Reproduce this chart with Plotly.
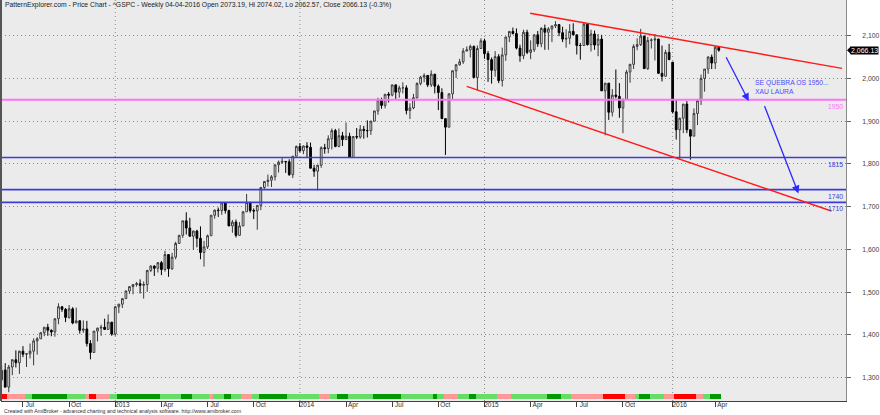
import pandas as pd
import plotly.graph_objects as go

# ---------------- data (weekly ^GSPC, week starting dates from 2012-05-21) ----------------
start_week = "2012-05-21"
opens = [1295,1318,1278,1325,1342,1335,1362,1355,1356,1362,1386,1391,1405,1418,1411,1407,1438,1466,1460,1441,
         1461,1428,1433,1411,1414,1380,1359,1409,1416,1418,1413,1430,1402,1466,1472,1485,1503,1513,1518,1520,
         1516,1518,1551,1561,1556,1569,1553,1588,1555,1582,1614,1633,1667,1650,1631,1643,1626,1593,1606,1632,
         1680,1692,1691,1709,1691,1655,1664,1633,1655,1688,1710,1691,1690,1703,1745,1759,1762,1770,1798,1804,
         1806,1805,1775,1818,1841,1831,1842,1839,1790,1783,1797,1838,1836,1859,1878,1841,1866,1857,1865,1815,
         1864,1863,1881,1878,1878,1900,1924,1950,1937,1963,1961,1985,1968,1978,1978,1925,1931,1955,1988,2003,
         2007,1985,2010,1982,1967,1906,1886,1964,2018,2032,2039,2064,2067,2075,2002,2070,2088,2058,2044,2019,
         2051,1995,2055,2097,2110,2105,2071,2053,2108,2061,2067,2102,2081,2117,2108,2116,2123,2126,2107,2092,
         2094,2110,2102,2077,2077,2127,2079,2104,2078,2092,1971,1989,1921,1961,1958,1931,1951,2015,2033,2075,
         2079,2099,2023,2089,2090,2092,2012,2005,2061,2038,1922,1880,1907,1940,1880,1865,1918,1948,2000,2022,
         2050,2036,2073.19]
highs = [1328,1334,1330,1343,1364,1363,1374,1357,1380,1392,1395,1407,1418,1426,1413,1438,1474,1467,1463,1470,
         1465,1464,1435,1434,1433,1388,1409,1417,1424,1438,1448,1430,1467,1472,1485,1503,1514,1518,1524,1530,
         1525,1552,1563,1563,1570,1573,1597,1589,1592,1618,1634,1667,1687,1674,1644,1646,1654,1620,1635,1680,
         1693,1698,1710,1709,1693,1669,1670,1664,1690,1730,1711,1696,1704,1745,1759,1775,1774,1798,1808,1814,
         1806,1811,1819,1843,1849,1843,1851,1850,1798,1798,1841,1847,1867,1883,1882,1883,1875,1897,1873,1865,
         1884,1891,1889,1902,1901,1924,1955,1955,1963,1968,1985,1985,1983,1991,1984,1942,1964,1991,2006,2012,
         2008,2019,2010,1986,1977,1906,1965,2018,2034,2046,2071,2075,2079,2077,2077,2094,2093,2064,2049,2064,
         2057,2072,2097,2110,2119,2117,2079,2114,2114,2089,2103,2111,2120,2126,2120,2123,2134,2126,2121,2115,
         2127,2129,2102,2083,2132,2129,2114,2112,2104,2102,1989,1989,1975,2021,1989,1953,2020,2034,2080,2094,
         2116,2100,2097,2094,2104,2093,2077,2067,2081,2038,1950,1908,1940,1947,1881,1930,1952,2009,2022,2052,
         2056,2075,2074.02]
lows = [1291,1277,1266,1306,1324,1309,1348,1325,1345,1329,1354,1391,1397,1398,1397,1396,1425,1454,1430,1438,
        1425,1428,1403,1405,1373,1343,1359,1385,1398,1416,1412,1398,1398,1451,1463,1485,1496,1495,1513,1497,
        1485,1501,1547,1538,1546,1540,1548,1536,1552,1577,1614,1627,1635,1630,1599,1605,1577,1560,1601,1632,
        1672,1676,1681,1684,1655,1639,1628,1633,1655,1688,1686,1671,1646,1692,1740,1747,1746,1761,1780,1800,
        1779,1772,1767,1818,1827,1823,1815,1790,1770,1738,1791,1824,1825,1834,1839,1839,1842,1857,1814,1815,
        1858,1859,1859,1862,1868,1900,1915,1929,1930,1944,1958,1952,1955,1965,1916,1905,1928,1953,1984,1991,
        1980,1980,1965,1926,1906,1821,1886,1951,2001,2030,2034,2064,2049,2002,1972,2069,2046,1992,1988,2004,
        1989,1981,2041,2085,2103,2068,2039,2045,2057,2045,2062,2074,2073,2067,2067,2085,2118,2099,2085,2072,
        2080,2101,2056,2044,2077,2077,2063,2067,2052,1971,1867,1903,1911,1953,1908,1872,1951,1990,2022,2066,
        2076,2022,2020,2070,2042,2011,1993,2005,2043,1918,1857,1812,1872,1872,1810,1865,1891,1938,1969,2011,
        2022,2022,2062.57]
closes = [1317,1278,1325,1342,1335,1362,1355,1356,1362,1386,1391,1405,1418,1411,1407,1438,1466,1460,1441,1461,
          1428,1433,1411,1414,1380,1359,1409,1416,1418,1413,1430,1402,1466,1472,1485,1503,1513,1518,1520,1516,
          1518,1551,1561,1556,1569,1553,1588,1555,1582,1614,1633,1667,1650,1631,1643,1626,1593,1606,1632,1680,
          1692,1691,1709,1691,1655,1664,1633,1655,1688,1710,1691,1690,1703,1745,1759,1762,1770,1798,1804,1806,
          1805,1775,1818,1841,1831,1842,1839,1790,1783,1797,1838,1836,1859,1878,1841,1866,1857,1865,1815,1864,
          1863,1881,1878,1878,1900,1924,1950,1937,1963,1961,1985,1968,1978,1978,1925,1931,1955,1988,2003,2007,
          1985,2010,1982,1967,1906,1886,1964,2018,2032,2039,2064,2067,2075,2002,2070,2088,2058,2044,2019,2051,
          1995,2055,2097,2110,2105,2071,2053,2108,2061,2067,2102,2081,2117,2108,2116,2123,2126,2107,2092,2094,
          2110,2102,2077,2077,2127,2079,2104,2078,2092,1971,1989,1921,1961,1958,1931,1951,2015,2033,2075,2079,
          2099,2023,2089,2090,2092,2012,2005,2061,2044,1922,1880,1907,1940,1880,1865,1918,1948,2000,2022,2050,
          2036,2073,2066.13]

# trend ribbon, one code per week: R red, P pink, L light green, G dark green
ribbon = ("RR" "PPPPP" "LL" "GGGGGGGGGG" "LLLLL" "P" "RR" "PPPP" "LL" "GGGGGGGGGGGG" "LLLLLL" "GGG" "LLLLL"
          "P" "LLL" "GG" "LLL" "PPP" "LL" "GGGGGGGG" "LLLLLLLLL" "PPP" "LL" "GGG" "LLLLLLL" "GGGGGGGG"
          "LLLLLLLLL" "G" "LL" "PPPP" "LLL" "GG" "LLLLLL" "PPPP" "LLLLLLLLLL" "GGGG" "LLL" "PPPPPPPPP"
          "RRRRRR" "PPP" "L" "GGG" "LLLL" "PPP" "RRRRRR" "PP" "LL" "GGG")
ribbon_colors = {"R": "#ff0000", "P": "#ff9999", "L": "#66dd66", "G": "#009a00"}

tick_dates = ["2012-07-02", "2012-10-01", "2012-12-31", "2013-04-01", "2013-07-01", "2013-09-30",
              "2013-12-30", "2014-03-31", "2014-06-30", "2014-09-29", "2014-12-29", "2015-03-30",
              "2015-06-29", "2015-09-28", "2016-01-04", "2016-03-28"]
tick_labels = ["Jul", "Oct", "2013", "Apr", "Jul", "Oct", "2014", "Apr", "Jul", "Oct", "2015", "Apr",
               "Jul", "Oct", "2016", "Apr"]
year_lines = ["2012-12-31", "2013-12-30", "2014-12-29", "2016-01-04"]
y_ticks = [1300, 1400, 1500, 1600, 1700, 1800, 1900, 2000, 2100]

# support levels
levels = [1950, 1815, 1740, 1710]
level_colors = ["#ff70ff", "#3c3cdc", "#3c3cdc", "#3c3cdc"]

# channel lines (date, price)
upper_line = [("2015-03-29", 2152.4), ("2016-12-03", 2023.7)]
lower_line = [("2014-11-24", 1981.6), ("2016-11-12", 1690.0)]
# arrows (tail -> head)
arrows = [(("2016-04-17", 2053.0), ("2016-06-02", 1947.0)),
          (("2016-07-02", 1939.0), ("2016-09-08", 1731.0))]
note_pos = ("2016-06-10", 2003.0)
note_text = "SE QUEBRA OS 1950...<br>XAU LAURA"

title_text = ("PatternExplorer.com - Price Chart - ^GSPC - Weekly 04-04-2016 Open 2073.19, "
              "Hi 2074.02, Lo 2062.57, Close 2066.13 (-0.3%)")
footer_text = ("Created with AmiBroker - advanced charting and technical analysis software. "
               "http://www.amibroker.com")
last_close = closes[-1]

# ---------------- figure ----------------
n = len(closes)
dates = pd.date_range(start_week, periods=n, freq="7D")
t0 = pd.Timestamp(start_week)
x_range = [t0 - pd.Timedelta(days=1.3), t0 + pd.Timedelta(days=1664.8)]

FONT = "Arial, Liberation Sans, sans-serif"
DOT = "1px,3px"
fig = go.Figure()

fig.add_trace(go.Candlestick(
    x=dates, open=opens, high=highs, low=lows, close=closes,
    increasing=dict(line=dict(color="#3a3a3a", width=1), fillcolor="#ffffff"),
    decreasing=dict(line=dict(color="#000000", width=1), fillcolor="#000000"),
    whiskerwidth=0, showlegend=False, hoverinfo="skip",
))

rib = ribbon[:n]
fig.add_trace(go.Bar(
    x=dates[:len(rib)], y=[1] * len(rib), yaxis="y2",
    marker=dict(color=[ribbon_colors[c] for c in rib], line=dict(width=0)),
    width=7 * 86400000, showlegend=False, hoverinfo="skip",
))

shapes = []
for d in year_lines:
    shapes.append(dict(type="line", xref="x", yref="paper", x0=d, x1=d, y0=0, y1=1,
                       line=dict(color="#8a8a8a", width=1, dash=DOT), layer="below"))
for lv, col in zip(levels, level_colors):
    shapes.append(dict(type="line", xref="paper", yref="y", x0=0, x1=1, y0=lv, y1=lv,
                       line=dict(color=col, width=2 if lv == 1950 else 1.6)))
for ln in (upper_line, lower_line):
    shapes.append(dict(type="line", xref="x", yref="y", x0=ln[0][0], y0=ln[0][1],
                       x1=ln[1][0], y1=ln[1][1], line=dict(color="#ff1a1a", width=1.4)))
# left border
shapes.append(dict(type="line", xref="paper", yref="paper", x0=0, x1=0, y0=0, y1=1,
                   line=dict(color="#555555", width=2)))
# price tag pointer
shapes.append(dict(type="path", xref="paper", yref="y", xsizemode="pixel", ysizemode="pixel",
                   xanchor=1, yanchor=last_close, path="M 1,0 L 5,-4 L 5,4 Z",
                   fillcolor="#000000", line=dict(width=0)))

annotations = [
    dict(xref="paper", yref="paper", x=0, y=1, xanchor="left", yanchor="top", xshift=2, yshift=1,
         text=title_text, showarrow=False, font=dict(family=FONT, size=6.8, color="#202020")),
    dict(xref="paper", yref="paper", x=0, y=0, xanchor="left", yanchor="bottom", xshift=1, yshift=-15,
         text=footer_text, showarrow=False, font=dict(family=FONT, size=5.2, color="#303030")),
    dict(xref="paper", yref="y", x=1, y=last_close, xanchor="left", yanchor="middle", xshift=4,
         text="2,066.13", showarrow=False, bgcolor="#000000", borderpad=0,
         font=dict(family=FONT, size=7, color="#ffffff")),
    dict(xref="x", yref="y", x=note_pos[0], y=note_pos[1], xanchor="left", yanchor="top",
         text=note_text, showarrow=False, align="left",
         font=dict(family=FONT, size=6.8, color="#4b4bff")),
]
for lv, col in zip(levels, level_colors):
    annotations.append(dict(xref="paper", yref="y", x=1, y=lv, xanchor="right", yanchor="top",
                            xshift=-1, yshift=-1, text=str(lv), showarrow=False,
                            font=dict(family=FONT, size=6.8, color=col)))
for (tail, head) in arrows:
    annotations.append(dict(xref="x", yref="y", axref="x", ayref="y", x=head[0], y=head[1],
                            ax=tail[0], ay=tail[1], text="", showarrow=True, arrowhead=2,
                            arrowsize=1.2, arrowwidth=1.3, arrowcolor="#2a2aff"))

fig.update_layout(
    width=880, height=415,
    margin=dict(l=1, r=32, t=0, b=14, pad=0),
    paper_bgcolor="#ffffff", plot_bgcolor="#ebebeb",
    showlegend=False, bargap=0,
    shapes=shapes, annotations=annotations,
    xaxis=dict(type="date", range=x_range, rangeslider=dict(visible=False),
               tickmode="array", tickvals=tick_dates, ticktext=tick_labels,
               showgrid=False, zeroline=False, showline=True, linecolor="#404040", linewidth=1,
               ticks="outside", ticklen=5, tickcolor="#404040", ticklabelstandoff=-8,
               ticklabelshift=7, tickfont=dict(family=FONT, size=6.5, color="#303030")),
    yaxis=dict(range=[1245.5, 2183.5], side="right", tickmode="array", tickvals=y_ticks,
               ticktext=[f"{v:,}" for v in y_ticks], showgrid=True, gridcolor="#8a8a8a",
               griddash=DOT, gridwidth=1, zeroline=False, showline=True, linecolor="#8a8a8a",
               ticks="outside", ticklen=4, tickcolor="#606060", ticklabelstandoff=10,
               tickfont=dict(family=FONT, size=6.8, color="#404040")),
    yaxis2=dict(domain=[0.005, 0.0175], range=[0, 1], visible=False, fixedrange=True),
)

fig.write_html("out.html", config={"displayModeBar": False},
               post_script="document.body.style.margin='0';document.body.style.padding='0';"
                           "document.body.style.overflow='hidden';")
